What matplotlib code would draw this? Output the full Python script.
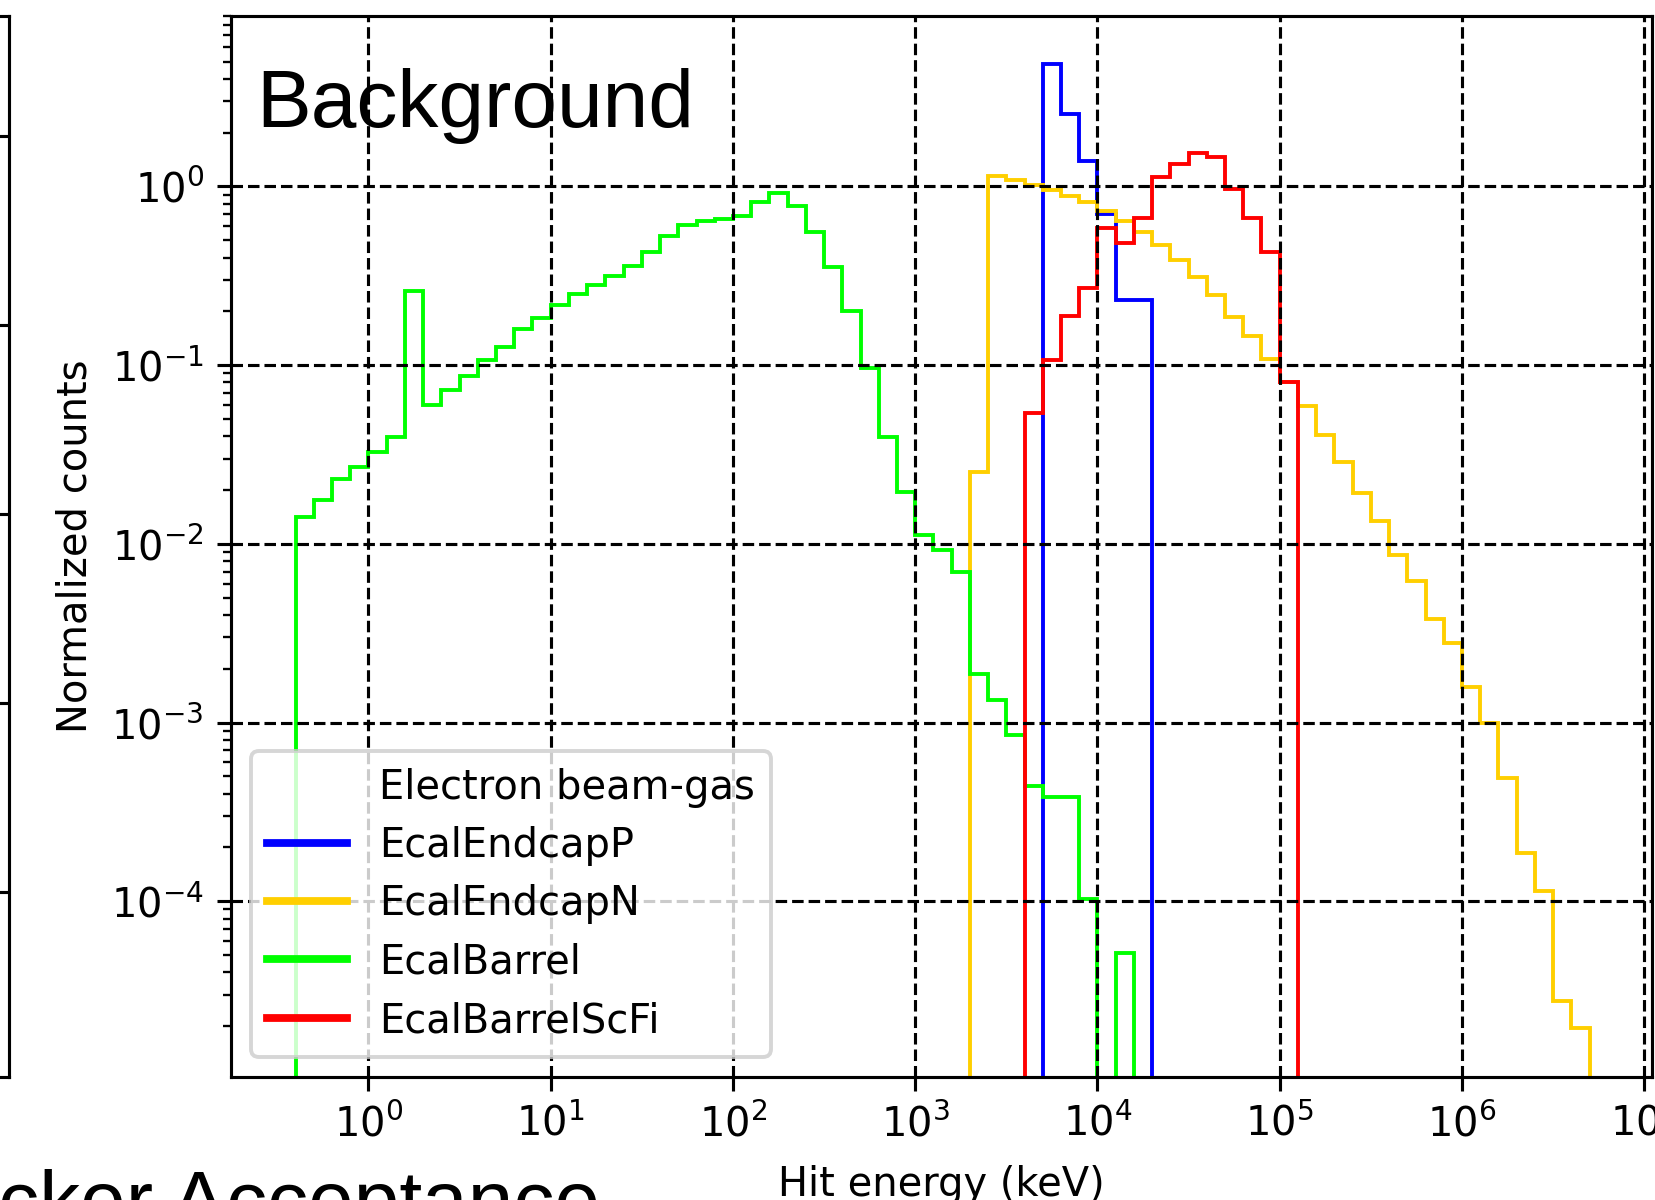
import numpy as np
import matplotlib.pyplot as plt
from matplotlib.ticker import LogLocator, NullLocator

# normalized hit-energy histograms, 10 log bins per decade
# *_start = log10 of the lower edge of the first bin (keV)
endcapP_start = 3.7
endcapP_counts = [4.85, 2.55, 1.39, 0.700, 0.233, 0.233]

endcapN_start = 3.3
endcapN_counts = [0.0251, 1.147, 1.080, 1.013, 0.950, 0.887, 0.818, 0.731,
                  0.643, 0.555, 0.472, 0.389, 0.311, 0.246, 0.186, 0.145,
                  0.108, 0.081, 0.0589, 0.0408, 0.0287, 0.0193, 0.0134,
                  0.00871, 0.00616, 0.00378, 0.00279, 0.00159, 0.00099,
                  0.000492, 0.000187, 0.000114, 2.75e-5, 1.95e-5]

barrel_start = -0.4
barrel_counts = [0.0142, 0.0177, 0.0230, 0.0270, 0.0328, 0.0398, 0.261,
                 0.060, 0.0724, 0.0871, 0.1067, 0.1267, 0.159, 0.184,
                 0.217, 0.250, 0.282, 0.317, 0.357, 0.428, 0.526, 0.606,
                 0.637, 0.657, 0.686, 0.814, 0.918, 0.773, 0.556, 0.353,
                 0.200, 0.0966, 0.0394, 0.0194, 0.0112, 0.00923, 0.00692,
                 0.00188, 0.00133, 0.000851, 0.000442, 0.000385, 0.000385,
                 0.000103, 0.0, 5.16e-5]

scfi_start = 3.6
scfi_counts = [0.054, 0.1075, 0.188, 0.269, 0.583, 0.482, 0.665, 1.123,
               1.333, 1.535, 1.47, 0.966, 0.665, 0.428, 0.0808]

labels = ['EcalEndcapP', 'EcalEndcapN', 'EcalBarrel', 'EcalBarrelScFi']
colors = ['#0000ff', '#ffcf00', '#00ff00', '#ff0000']
starts = [endcapP_start, endcapN_start, barrel_start, scfi_start]
counts = [endcapP_counts, endcapN_counts, barrel_counts, scfi_counts]

plt.rcParams['font.size'] = 10.3

fig = plt.figure(figsize=(1655.4 / 280, 1200.4 / 280), dpi=280)

# edge of the neighbouring panel on the slide
ax0 = fig.add_axes([-0.2, 123 / 1200, 0.2 + 9 / 1655, 1061 / 1200])
ax0.set_yscale('log')
ax0.set_ylim(10**-4.979, 10**0.635)
ax0.yaxis.tick_right()
ax0.yaxis.set_minor_locator(NullLocator())
ax0.tick_params(axis='y', direction='in', labelright=False, labelleft=False)
ax0.set_xticks([])

ax = fig.add_axes([231 / 1655, 123 / 1200, 1421 / 1655, 1061 / 1200])

ax.plot([], [], ' ', label='Electron beam-gas')
for lo, c, col, lab in zip(starts, counts, colors, labels):
    edges = 10 ** (lo + 0.1 * np.arange(len(c) + 1))
    ax.stairs(c, edges, color=col, lw=1.0, label=lab)

ax.set_xscale('log')
ax.set_yscale('log')
ax.set_xlim(10**-0.754, 10**7.045)
ax.set_ylim(10**-4.983, 10**0.956)
ax.xaxis.set_major_locator(LogLocator(base=10, numticks=20))
ax.xaxis.set_minor_locator(NullLocator())
ax.grid(True, which='major', linestyle='--', color='k', lw=0.8)

ax.set_xlabel('Hit energy (keV)', labelpad=5)
ax.set_ylabel('Normalized counts')

leg = ax.legend(loc='lower left', labelspacing=0.46)
for h in leg.legend_handles:
    h.set_linewidth(2.0)

# slide annotations (the lower line is cut off by the crop)
fig.text(256 / 1655, 1 - 127 / 1200, 'Background', fontsize=21.1,
         family='Liberation Sans', va='baseline')
fig.text(-122 / 1655, 1 - 1228 / 1200, 'Tracker Acceptance', fontsize=21.1,
         family='Liberation Sans', va='baseline')

fig.savefig('out.png', dpi=280)
